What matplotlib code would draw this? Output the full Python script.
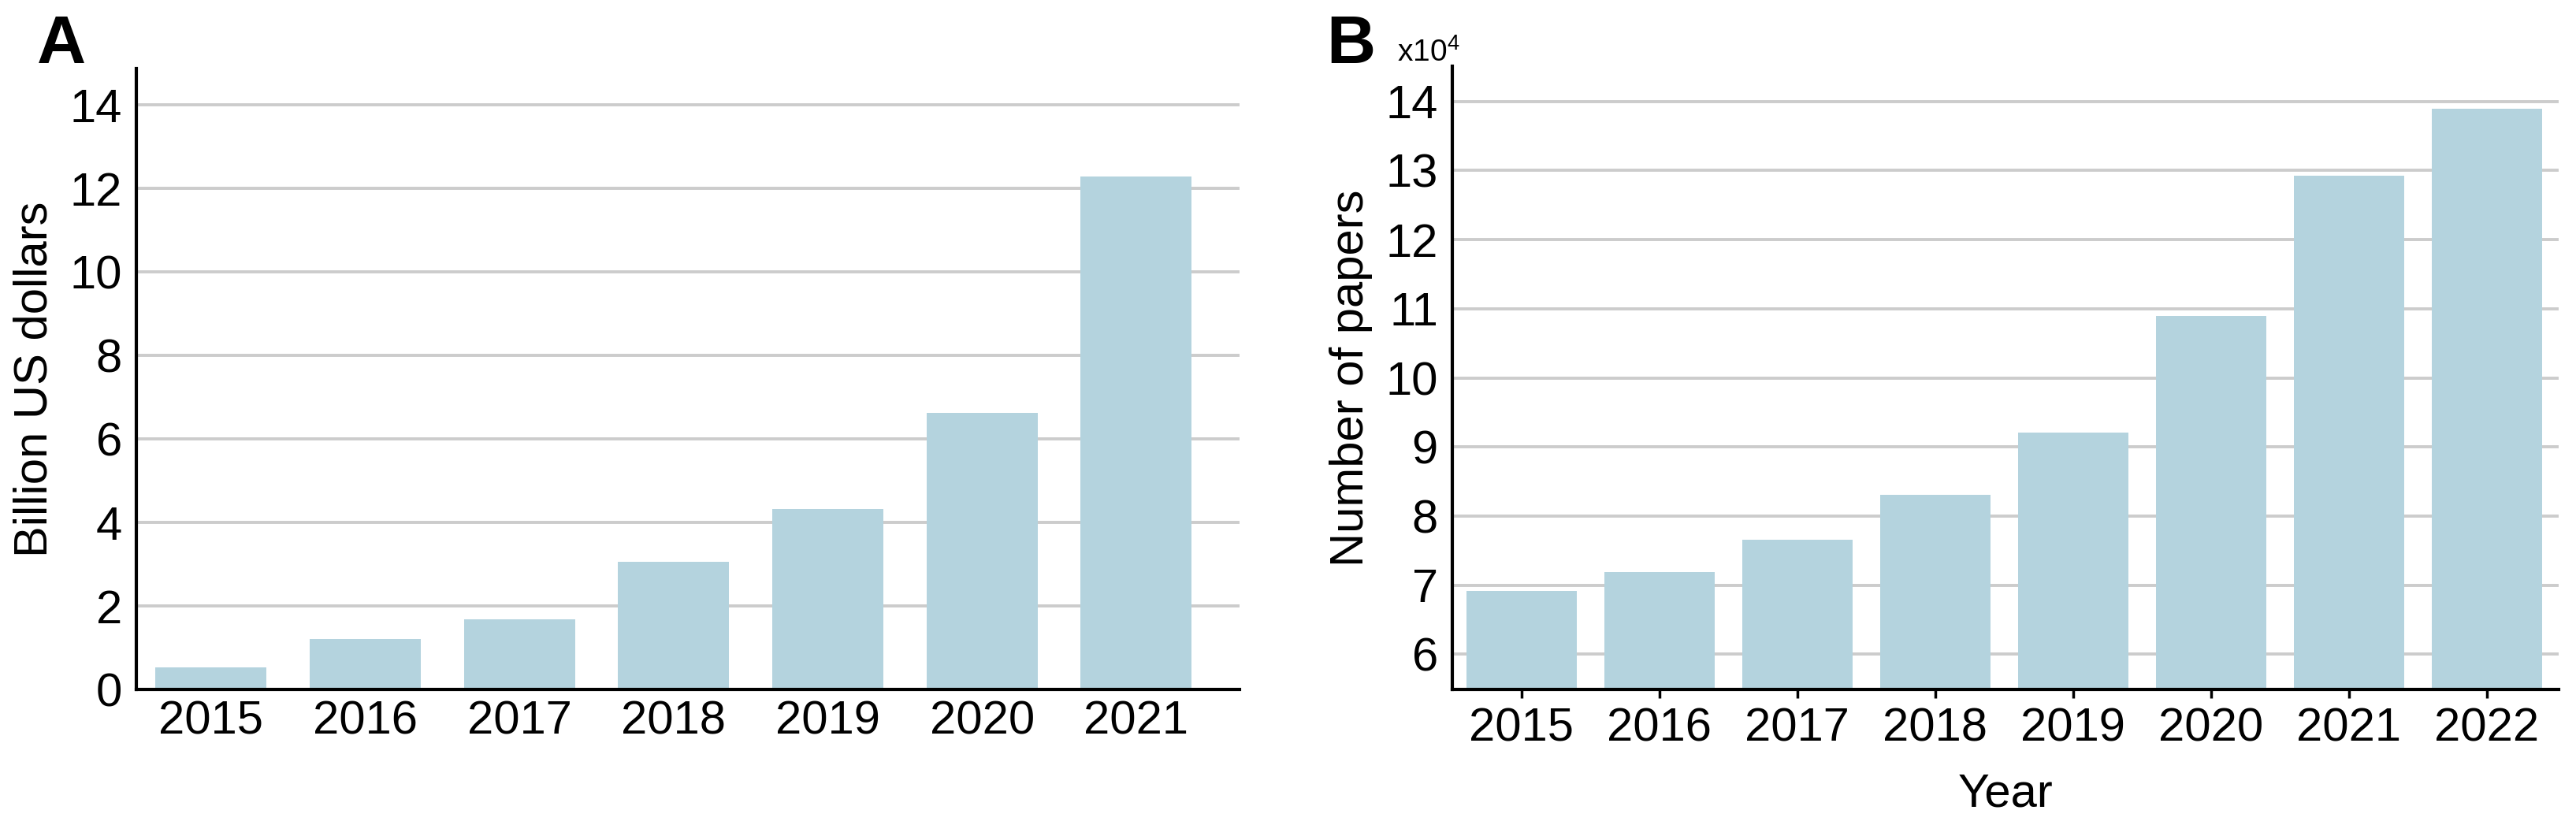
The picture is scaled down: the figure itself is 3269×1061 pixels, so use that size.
import matplotlib.pyplot as plt
import numpy as np

plt.rcParams['font.family'] = ['Liberation Sans', 'DejaVu Sans']
plt.rcParams['mathtext.fontset'] = 'custom'
plt.rcParams['mathtext.rm'] = 'Liberation Sans'

# Panel A: investment
years_a = ['2015', '2016', '2017', '2018', '2019', '2020', '2021']
invest = [0.53, 1.2, 1.68, 3.06, 4.33, 6.62, 12.28]

# Panel B: number of papers
years_b = ['2015', '2016', '2017', '2018', '2019', '2020', '2021', '2022']
papers = [69100, 71900, 76600, 83100, 92100, 109000, 129300, 138900]

bar_color = '#b4d3de'
grid_color = '#cccccc'
fs = 43

fig = plt.figure(figsize=(32.69, 10.61), dpi=100)

# ---- A ----
ax1 = fig.add_axes([173/3269, 186/1061, 1400/3269, 788/1061])
x = np.arange(len(years_a))
ax1.bar(x, invest, width=0.72, color=bar_color, zorder=2)
ax1.set_xlim(-0.485, 6.67)
ax1.set_ylim(0, 14.87)
ax1.set_yticks(range(0, 15, 2))
ax1.set_xticks(x)
ax1.set_xticklabels(years_a)
ax1.set_ylabel('Billion US dollars', fontsize=fs, labelpad=12)
ax1.tick_params(axis='x', length=0, pad=10, labelsize=fs)
ax1.tick_params(axis='y', length=0, pad=13, labelsize=fs)
ax1.yaxis.grid(True, color=grid_color, lw=2.8, zorder=0)
ax1.set_axisbelow(True)
for s in ['top', 'right']:
    ax1.spines[s].set_visible(False)
for s in ['left', 'bottom']:
    ax1.spines[s].set_linewidth(3)

# ---- B ----
ax2 = fig.add_axes([1843/3269, 186/1061, 1404/3269, 791/1061])
xb = np.arange(len(years_b))
ax2.bar(xb, np.array(papers) / 1e4, width=0.8, color=bar_color, zorder=2)
ax2.set_xlim(-0.5, 7.52)
ax2.set_ylim(5.49, 14.51)
ax2.set_yticks(range(6, 15))
ax2.set_xticks(xb)
ax2.set_xticklabels(years_b)
ax2.set_ylabel('Number of papers', fontsize=fs, labelpad=12)
ax2.set_xlabel('Year', fontsize=fs, labelpad=20)
ax2.tick_params(axis='x', length=8, width=2.5, pad=8, labelsize=fs)
ax2.tick_params(axis='y', length=0, pad=13, labelsize=fs)
ax2.yaxis.grid(True, color=grid_color, lw=2.8, zorder=0)
ax2.set_axisbelow(True)
for s in ['top', 'right']:
    ax2.spines[s].set_visible(False)
for s in ['left', 'bottom']:
    ax2.spines[s].set_linewidth(3)

# panel letters and multiplier
fig.text(47/3269, 1 - 80/1061, 'A', fontsize=62, fontweight='bold', va='baseline')
fig.text(1683/3269, 1 - 80/1061, 'B', fontsize=62, fontweight='bold', va='baseline')
fig.text(1773/3269, 1 - 78/1061, r'x10$^{\mathregular{4}}$', fontsize=28, va='baseline')

fig.savefig('out.png', dpi=100)
